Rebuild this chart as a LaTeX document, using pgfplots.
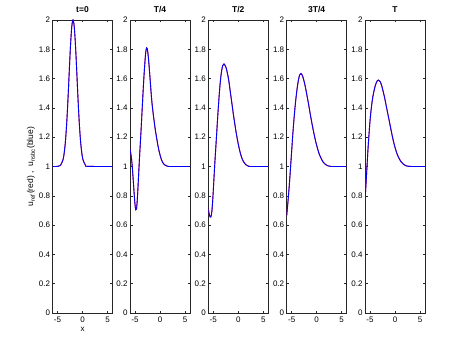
\documentclass[border=0pt]{standalone}
\usepackage{fontspec}
\setmainfont{Liberation Sans}
\usepackage{pgfplots}
\pgfplotsset{compat=1.18}
\pgfplotsset{
  panel/.style={
    scale only axis, width=60pt, height=293pt, anchor=south west,
    xmin=-6, xmax=6, ymin=0, ymax=2,
    xtick={-5,0,5}, ytick={0,0.2,...,2.01},
    yticklabel style={/pgf/number format/fixed, xshift=1pt},
    tick align=inside, major tick length=2.5pt,
    axis line style={black!85, line width=0.5pt},
    every tick/.style={black!85, line width=0.5pt},
    tick label style={font=\fontsize{8}{9}\selectfont},
    /pgf/number format/assume math mode=true,
    title style={font=\fontsize{8.5}{10}\selectfont\bfseries, yshift=-2.5pt},
    xticklabel style={yshift=-0.5pt},
  },
  uref/.style={red, line width=0.9pt, no marks, smooth, tension=0.5},
  unsbc/.style={blue, line width=0.9pt, no marks, smooth, tension=0.5},
}
\pgfplotstableread{
x y
-6.0 1.0
-4.9 1.001
-4.4 1.008
-3.9 1.046
-3.65 1.095
-3.4 1.177
-3.15 1.301
-2.9 1.463
-2.65 1.649
-2.4 1.825
-2.15 1.953
-1.9 2.0
-1.65 1.953
-1.4 1.825
-1.15 1.649
-0.9 1.463
-0.65 1.301
-0.4 1.177
-0.15 1.095
0.1 1.046
0.6 1.008
1.1 1.001
6.0 1.0
}\tzero
\pgfplotstableread{
x y
-6.0 1.12
-5.8 1.08
-5.6 1.02
-5.4 0.93
-5.2 0.83
-5.0 0.74
-4.85 0.705
-4.7 0.71
-4.55 0.77
-4.4 0.86
-4.25 0.96
-4.1 1.06
-3.95 1.15
-3.8 1.24
-3.6 1.37
-3.4 1.50
-3.2 1.62
-3.0 1.72
-2.85 1.78
-2.67 1.81
-2.5 1.795
-2.3 1.735
-2.1 1.65
-1.9 1.56
-1.7 1.47
-1.5 1.40
-1.25 1.33
-1.0 1.265
-0.75 1.21
-0.5 1.16
-0.25 1.115
0.0 1.08
0.25 1.05
0.5 1.03
0.8 1.015
1.2 1.005
1.7 1.001
2.2 1.0
6.0 1.0
}\tquarter
\pgfplotstableread{
x y
-6.0 0.71
-5.75 0.665
-5.5 0.655
-5.3 0.69
-5.1 0.78
-4.9 0.90
-4.7 1.02
-4.5 1.13
-4.3 1.24
-4.1 1.35
-3.9 1.45
-3.7 1.54
-3.5 1.61
-3.3 1.66
-3.1 1.69
-2.86 1.70
-2.5 1.68
-2.2 1.64
-1.9 1.585
-1.6 1.51
-1.3 1.435
-1.0 1.36
-0.7 1.29
-0.4 1.225
-0.1 1.17
0.2 1.12
0.5 1.08
0.8 1.05
1.1 1.03
1.5 1.012
2.0 1.003
2.5 1.0
6.0 1.0
}\thalf
\pgfplotstableread{
x y
-6.0 0.665
-5.8 0.74
-5.6 0.82
-5.4 0.91
-5.2 1.01
-5.0 1.11
-4.8 1.21
-4.6 1.30
-4.4 1.38
-4.2 1.45
-4.0 1.51
-3.8 1.56
-3.6 1.60
-3.4 1.625
-3.15 1.635
-2.85 1.62
-2.55 1.585
-2.25 1.54
-1.95 1.485
-1.6 1.42
-1.25 1.35
-0.9 1.285
-0.55 1.225
-0.2 1.17
0.15 1.125
0.5 1.085
0.9 1.055
1.3 1.03
1.8 1.013
2.3 1.004
3.0 1.0
6.0 1.0
}\tthree
\pgfplotstableread{
x y
-6.0 0.77
-5.85 0.85
-5.7 0.94
-5.55 1.03
-5.4 1.12
-5.2 1.22
-5.0 1.31
-4.8 1.38
-4.55 1.45
-4.3 1.50
-4.0 1.545
-3.7 1.575
-3.5 1.587
-3.27 1.59
-2.95 1.578
-2.65 1.55
-2.35 1.51
-2.05 1.465
-1.7 1.405
-1.35 1.345
-1.0 1.285
-0.65 1.225
-0.3 1.17
0.05 1.125
0.4 1.087
0.8 1.056
1.2 1.033
1.7 1.015
2.2 1.005
2.8 1.001
3.5 1.0
6.0 1.0
}\tfull
\begin{document}
\begin{tikzpicture}
\path (0,0) rectangle (449pt,343pt);
\begin{axis}[panel, at={(52.5pt,30pt)}, title={t=0}, xlabel={x},
  xlabel style={font=\fontsize{8}{9}\selectfont, yshift=2pt},
  ylabel={u$_{\mathrm{ref}}$(red) ,\ \ u$_{\mathrm{nsbc}}$(blue)},
  ylabel style={font=\fontsize{8.5}{10}\selectfont, yshift=-3pt}]
\addplot[uref] table {\tzero};
\addplot[unsbc] table {\tzero};
\end{axis}
\begin{axis}[panel, at={(130pt,30pt)}, title={T/4}]
\addplot[uref] table {\tquarter};
\addplot[unsbc] table {\tquarter};
\end{axis}
\begin{axis}[panel, at={(208.3pt,30pt)}, title={T/2}]
\addplot[uref] table {\thalf};
\addplot[unsbc] table {\thalf};
\end{axis}
\begin{axis}[panel, at={(286.7pt,30pt)}, title={3T/4}]
\addplot[uref] table {\tthree};
\addplot[unsbc] table {\tthree};
\end{axis}
\begin{axis}[panel, at={(365pt,30pt)}, title={T}]
\addplot[uref] table {\tfull};
\addplot[unsbc] table {\tfull};
\end{axis}
\end{tikzpicture}
\end{document}
